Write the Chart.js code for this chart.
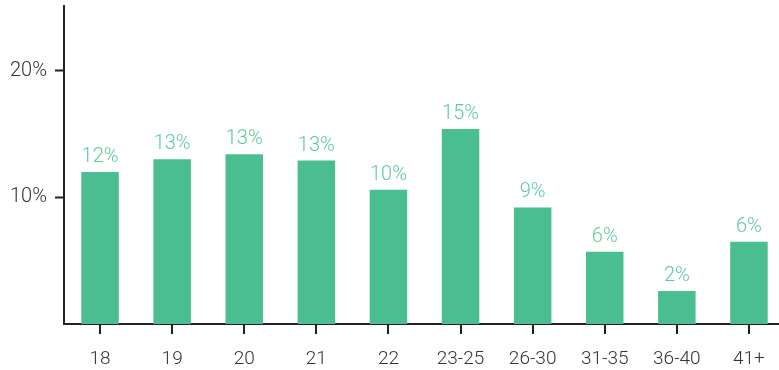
<!DOCTYPE html>
<html>
<head>
<meta charset="utf-8">
<script src="https://cdn.jsdelivr.net/npm/chart.js@4/dist/chart.umd.min.js"></script>
<style>
html,body{margin:0;padding:0;background:#fff;overflow:hidden;}
#wrap{width:785px;height:370px;}
</style>
</head>
<body>
<div id="wrap"><canvas id="c" width="785" height="370"></canvas></div>
<script>
const categories = ['18','19','20','21','22','23-25','26-30','31-35','36-40','41+'];
const values = [12.0, 13.0, 13.4, 12.9, 10.6, 15.4, 9.2, 5.7, 2.6, 6.5];
const valueLabels = ['12%','13%','13%','13%','10%','15%','9%','6%','2%','6%'];
const yTicks = [10, 20];

const FONT = 'Roboto, "Liberation Sans", sans-serif';
const barColor = '#4bbe91';
const labelColor = '#5ccb9b';
const axisColor = '#222222';
const textColor = '#333333';

const labelPlugin = {
  id: 'valueLabels',
  afterDatasetsDraw(chart) {
    const ctx = chart.ctx;
    const meta = chart.getDatasetMeta(0);
    ctx.save();
    ctx.fillStyle = labelColor;
    ctx.font = '300 20px ' + FONT;
    ctx.textAlign = 'center';
    ctx.textBaseline = 'alphabetic';
    meta.data.forEach((bar, i) => {
      ctx.fillText(valueLabels[i], bar.x, bar.y - 10);
    });
    // x-axis tick marks at category centres
    const xs = chart.scales.x;
    ctx.strokeStyle = axisColor;
    ctx.lineWidth = 2;
    ctx.beginPath();
    xs.ticks.forEach((t, i) => {
      const px = Math.round(xs.getPixelForTick(i));
      ctx.moveTo(px, xs.top);
      ctx.lineTo(px, xs.top + 10);
    });
    ctx.stroke();
    ctx.restore();
  }
};

new Chart(document.getElementById('c'), {
  type: 'bar',
  data: {
    labels: categories,
    datasets: [{
      data: values,
      backgroundColor: barColor,
      borderWidth: 0,
      barPercentage: 0.52,
      categoryPercentage: 1.0
    }]
  },
  options: {
    responsive: false,
    animation: false,
    events: [],
    layout: { padding: { top: 6, right: 0, left: 0, bottom: 0 } },
    plugins: { legend: { display: false }, tooltip: { enabled: false } },
    scales: {
      x: {
        grid: { display: false },
        border: { display: true, color: axisColor, width: 2 },
        ticks: { color: textColor, font: { family: FONT, size: 19, weight: 300 }, padding: 16, maxRotation: 0 },
        afterFit(s) { s.height = 46; s.paddingLeft = 0; s.paddingRight = 0; }
      },
      y: {
        min: 0,
        max: 25.1,
        afterBuildTicks(s) { s.ticks = yTicks.map(v => ({ value: v })); },
        grid: { display: true, drawOnChartArea: false, drawTicks: true, tickLength: 9, tickWidth: 2, tickColor: axisColor },
        border: { display: true, color: axisColor, width: 2 },
        ticks: { color: textColor, font: { family: FONT, size: 20, weight: 300 }, padding: 8, callback: v => v + '%' },
        afterFit(s) { s.width = 64; s.paddingTop = 0; s.paddingBottom = 0; }
      }
    }
  },
  plugins: [labelPlugin]
});
</script>
</body>
</html>
